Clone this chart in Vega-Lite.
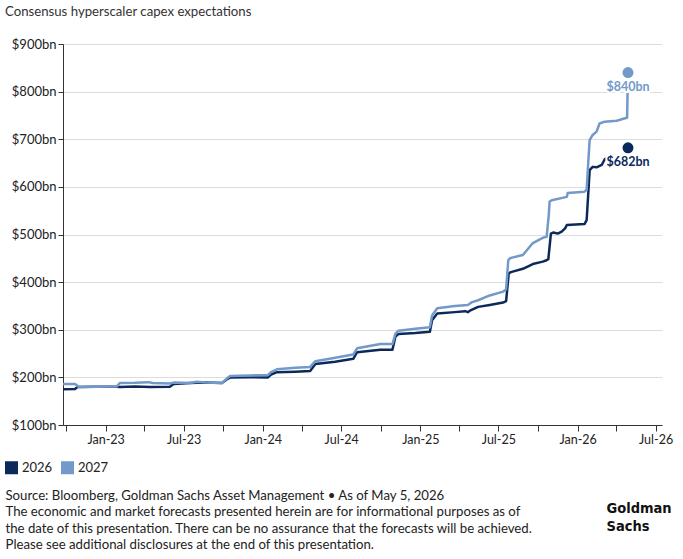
{
  "$schema": "https://vega.github.io/schema/vega-lite/v6.json",
  "autosize": "none",
  "width": 599,
  "height": 381,
  "padding": {"left": 63, "top": 44, "right": 21, "bottom": 134},
  "background": "white",
  "title": {
    "text": "Consensus hyperscaler capex expectations",
    "anchor": "start",
    "frame": "group",
    "dx": -58,
    "offset": 19,
    "font": "Lato",
    "fontSize": 13.2,
    "fontWeight": "normal",
    "color": "#333333"
  },
  "config": {
    "view": {"stroke": null},
    "font": "Lato"
  },
  "datasets": {
    "lines": [
      {"date": "2022-09-24", "series": "2026", "value": 175},
      {"date": "2022-10-22", "series": "2026", "value": 175.5},
      {"date": "2022-10-28", "series": "2026", "value": 180},
      {"date": "2022-12-08", "series": "2026", "value": 180.5},
      {"date": "2023-01-27", "series": "2026", "value": 180.5},
      {"date": "2023-02-03", "series": "2026", "value": 180},
      {"date": "2023-03-10", "series": "2026", "value": 181},
      {"date": "2023-04-14", "series": "2026", "value": 180},
      {"date": "2023-05-30", "series": "2026", "value": 180.5},
      {"date": "2023-06-08", "series": "2026", "value": 186},
      {"date": "2023-07-16", "series": "2026", "value": 188},
      {"date": "2023-08-20", "series": "2026", "value": 189},
      {"date": "2023-09-28", "series": "2026", "value": 188},
      {"date": "2023-10-10", "series": "2026", "value": 196},
      {"date": "2023-10-17", "series": "2026", "value": 199.5},
      {"date": "2023-12-02", "series": "2026", "value": 200},
      {"date": "2024-01-13", "series": "2026", "value": 200},
      {"date": "2024-01-20", "series": "2026", "value": 206},
      {"date": "2024-02-03", "series": "2026", "value": 211},
      {"date": "2024-03-16", "series": "2026", "value": 212},
      {"date": "2024-04-20", "series": "2026", "value": 213.5},
      {"date": "2024-05-02", "series": "2026", "value": 228},
      {"date": "2024-06-17", "series": "2026", "value": 233},
      {"date": "2024-07-29", "series": "2026", "value": 239},
      {"date": "2024-08-07", "series": "2026", "value": 253},
      {"date": "2024-09-30", "series": "2026", "value": 258},
      {"date": "2024-10-28", "series": "2026", "value": 258},
      {"date": "2024-11-04", "series": "2026", "value": 286},
      {"date": "2024-11-11", "series": "2026", "value": 291},
      {"date": "2024-12-20", "series": "2026", "value": 293},
      {"date": "2025-01-23", "series": "2026", "value": 296},
      {"date": "2025-01-28", "series": "2026", "value": 320},
      {"date": "2025-02-09", "series": "2026", "value": 334},
      {"date": "2025-03-22", "series": "2026", "value": 337},
      {"date": "2025-04-15", "series": "2026", "value": 339},
      {"date": "2025-04-21", "series": "2026", "value": 337},
      {"date": "2025-04-26", "series": "2026", "value": 340},
      {"date": "2025-05-15", "series": "2026", "value": 348},
      {"date": "2025-06-11", "series": "2026", "value": 352},
      {"date": "2025-07-12", "series": "2026", "value": 357},
      {"date": "2025-07-19", "series": "2026", "value": 360},
      {"date": "2025-07-25", "series": "2026", "value": 418},
      {"date": "2025-07-30", "series": "2026", "value": 421},
      {"date": "2025-08-27", "series": "2026", "value": 428},
      {"date": "2025-09-19", "series": "2026", "value": 438},
      {"date": "2025-10-12", "series": "2026", "value": 443},
      {"date": "2025-10-21", "series": "2026", "value": 446},
      {"date": "2025-10-25", "series": "2026", "value": 448},
      {"date": "2025-10-31", "series": "2026", "value": 502},
      {"date": "2025-11-05", "series": "2026", "value": 504},
      {"date": "2025-11-16", "series": "2026", "value": 502},
      {"date": "2025-11-25", "series": "2026", "value": 506},
      {"date": "2025-12-03", "series": "2026", "value": 513},
      {"date": "2025-12-07", "series": "2026", "value": 520},
      {"date": "2026-01-17", "series": "2026", "value": 522},
      {"date": "2026-01-22", "series": "2026", "value": 530},
      {"date": "2026-01-29", "series": "2026", "value": 635},
      {"date": "2026-02-05", "series": "2026", "value": 642},
      {"date": "2026-02-14", "series": "2026", "value": 641},
      {"date": "2026-02-26", "series": "2026", "value": 646},
      {"date": "2026-03-05", "series": "2026", "value": 658},
      {"date": "2026-03-10", "series": "2026", "value": 660},

      {"date": "2022-09-24", "series": "2027", "value": 186},
      {"date": "2022-10-22", "series": "2027", "value": 186},
      {"date": "2022-10-31", "series": "2027", "value": 180},
      {"date": "2022-12-08", "series": "2027", "value": 180.5},
      {"date": "2023-01-27", "series": "2027", "value": 181},
      {"date": "2023-02-03", "series": "2027", "value": 188},
      {"date": "2023-03-10", "series": "2027", "value": 188.5},
      {"date": "2023-04-10", "series": "2027", "value": 190},
      {"date": "2023-04-20", "series": "2027", "value": 188},
      {"date": "2023-05-30", "series": "2027", "value": 187},
      {"date": "2023-06-08", "series": "2027", "value": 189},
      {"date": "2023-07-16", "series": "2027", "value": 188},
      {"date": "2023-08-01", "series": "2027", "value": 191},
      {"date": "2023-08-20", "series": "2027", "value": 189},
      {"date": "2023-09-28", "series": "2027", "value": 188},
      {"date": "2023-10-10", "series": "2027", "value": 198},
      {"date": "2023-10-17", "series": "2027", "value": 203},
      {"date": "2023-12-02", "series": "2027", "value": 204},
      {"date": "2024-01-13", "series": "2027", "value": 205},
      {"date": "2024-01-20", "series": "2027", "value": 211},
      {"date": "2024-02-03", "series": "2027", "value": 217},
      {"date": "2024-03-16", "series": "2027", "value": 220},
      {"date": "2024-04-20", "series": "2027", "value": 222},
      {"date": "2024-05-02", "series": "2027", "value": 234},
      {"date": "2024-06-17", "series": "2027", "value": 241},
      {"date": "2024-07-29", "series": "2027", "value": 248},
      {"date": "2024-08-07", "series": "2027", "value": 261},
      {"date": "2024-09-30", "series": "2027", "value": 270},
      {"date": "2024-10-28", "series": "2027", "value": 270},
      {"date": "2024-11-04", "series": "2027", "value": 292},
      {"date": "2024-11-11", "series": "2027", "value": 298},
      {"date": "2024-12-20", "series": "2027", "value": 302},
      {"date": "2025-01-23", "series": "2027", "value": 305},
      {"date": "2025-01-28", "series": "2027", "value": 330},
      {"date": "2025-02-09", "series": "2027", "value": 345},
      {"date": "2025-03-22", "series": "2027", "value": 350},
      {"date": "2025-04-21", "series": "2027", "value": 352},
      {"date": "2025-05-01", "series": "2027", "value": 358},
      {"date": "2025-05-15", "series": "2027", "value": 362},
      {"date": "2025-06-11", "series": "2027", "value": 372},
      {"date": "2025-07-12", "series": "2027", "value": 380},
      {"date": "2025-07-19", "series": "2027", "value": 385},
      {"date": "2025-07-24", "series": "2027", "value": 446},
      {"date": "2025-07-28", "series": "2027", "value": 450},
      {"date": "2025-08-04", "series": "2027", "value": 452},
      {"date": "2025-08-27", "series": "2027", "value": 457},
      {"date": "2025-09-19", "series": "2027", "value": 482},
      {"date": "2025-10-12", "series": "2027", "value": 493},
      {"date": "2025-10-21", "series": "2027", "value": 495},
      {"date": "2025-10-26", "series": "2027", "value": 540},
      {"date": "2025-10-28", "series": "2027", "value": 569},
      {"date": "2025-11-02", "series": "2027", "value": 572},
      {"date": "2025-12-07", "series": "2027", "value": 579},
      {"date": "2025-12-09", "series": "2027", "value": 587},
      {"date": "2026-01-17", "series": "2027", "value": 590},
      {"date": "2026-01-22", "series": "2027", "value": 594},
      {"date": "2026-01-27", "series": "2027", "value": 670},
      {"date": "2026-01-29", "series": "2027", "value": 698},
      {"date": "2026-02-05", "series": "2027", "value": 709},
      {"date": "2026-02-14", "series": "2027", "value": 716},
      {"date": "2026-02-21", "series": "2027", "value": 733},
      {"date": "2026-03-05", "series": "2027", "value": 737},
      {"date": "2026-04-02", "series": "2027", "value": 739},
      {"date": "2026-04-21", "series": "2027", "value": 744},
      {"date": "2026-04-26", "series": "2027", "value": 745},
      {"date": "2026-04-27", "series": "2027", "value": 797}
    ],
    "latest": [
      {"date": "2026-04-28", "series": "2026", "value": 682, "label": "$682bn"},
      {"date": "2026-04-28", "series": "2027", "value": 840, "label": "$840bn"}
    ]
  },
  "encoding": {
    "x": {
      "field": "date",
      "type": "temporal",
      "scale": {"type": "utc", "domain": [{"year": 2022, "month": 9, "date": 24, "utc": true}, {"year": 2026, "month": 7, "date": 16, "utc": true}]},
      "axis": {
        "values": [
          {"year": 2022, "month": 10, "date": 1, "utc": true},
          {"year": 2023, "month": 1, "date": 1, "utc": true},
          {"year": 2023, "month": 4, "date": 1, "utc": true},
          {"year": 2023, "month": 7, "date": 1, "utc": true},
          {"year": 2023, "month": 10, "date": 1, "utc": true},
          {"year": 2024, "month": 1, "date": 1, "utc": true},
          {"year": 2024, "month": 4, "date": 1, "utc": true},
          {"year": 2024, "month": 7, "date": 1, "utc": true},
          {"year": 2024, "month": 10, "date": 1, "utc": true},
          {"year": 2025, "month": 1, "date": 1, "utc": true},
          {"year": 2025, "month": 4, "date": 1, "utc": true},
          {"year": 2025, "month": 7, "date": 1, "utc": true},
          {"year": 2025, "month": 10, "date": 1, "utc": true},
          {"year": 2026, "month": 1, "date": 1, "utc": true},
          {"year": 2026, "month": 4, "date": 1, "utc": true},
          {"year": 2026, "month": 7, "date": 1, "utc": true}
        ],
        "labelExpr": "utcmonth(datum.value) % 6 == 0 ? utcFormat(datum.value, '%b-%y') : ''",
        "labelFont": "Lato",
        "labelFontSize": 12.5,
        "labelColor": "#222222",
        "labelPadding": 2,
        "labelFlush": false,
        "labelOverlap": false,
        "tickSize": 6,
        "tickColor": "#333333",
        "domainColor": "#333333",
        "grid": false,
        "title": [
          "Source: Bloomberg, Goldman Sachs Asset Management \u2022 As of May 5, 2026",
          "The economic and market forecasts presented herein are for informational purposes as of",
          "the date of this presentation. There can be no assurance that the forecasts will be achieved.",
          "Please see additional disclosures at the end of this presentation."
        ],
        "titleFont": "Lato",
        "titleFontSize": 13.2,
        "titleFontWeight": "normal",
        "titleColor": "#222222",
        "titleAlign": "left",
        "titleAnchor": "start",
        "titleBaseline": "top",
        "titleLineHeight": 16.5,
        "titleX": -58,
        "titleY": 64
      }
    },
    "y": {
      "field": "value",
      "type": "quantitative",
      "scale": {"domain": [100, 900], "nice": false, "zero": false},
      "axis": {
        "values": [100, 200, 300, 400, 500, 600, 700, 800, 900],
        "labelExpr": "'$' + datum.value + 'bn'",
        "labelFont": "Lato",
        "labelFontSize": 13,
        "labelColor": "#222222",
        "labelPadding": 2,
        "tickSize": 5,
        "tickColor": "#333333",
        "domainColor": "#333333",
        "grid": true,
        "gridColor": "#dcdcdc",
        "gridWidth": 1,
        "title": ["Goldman", "Sachs"],
        "titleAngle": 0,
        "titleFont": "DejaVu Sans Condensed",
        "titleFontSize": 14.5,
        "titleFontWeight": "bold",
        "titleColor": "#111111",
        "titleAlign": "left",
        "titleBaseline": "top",
        "titleLineHeight": 18,
        "titleX": 543,
        "titleY": 457
      }
    },
    "color": {
      "field": "series",
      "type": "nominal",
      "scale": {"domain": ["2026", "2027"], "range": ["#0b2a5b", "#7399c9"]},
      "legend": {
        "title": null,
        "orient": "none",
        "direction": "horizontal",
        "legendX": -58,
        "legendY": 417,
        "symbolType": "square",
        "symbolSize": 169,
        "symbolStrokeWidth": 0,
        "labelFont": "Lato",
        "labelFontSize": 13,
        "labelColor": "#222222",
        "labelOffset": 4,
        "columnPadding": 8,
        "encode": {
          "symbols": {"update": {"fill": {"scale": "color", "field": "value"}, "stroke": {"value": "transparent"}, "opacity": {"value": 1}}}
        }
      }
    }
  },
  "layer": [
    {
      "data": {"name": "lines"},
      "mark": {"type": "line", "strokeWidth": 2.5, "strokeJoin": "round"}
    },
    {
      "data": {"name": "latest"},
      "mark": {"type": "point", "filled": true, "size": 120, "opacity": 1, "shape": "circle"}
    },
    {
      "data": {"name": "latest"},
      "mark": {"type": "text", "dy": 14, "align": "center", "baseline": "middle", "font": "Lato", "fontSize": 12.5, "fontWeight": "bold", "stroke": "white", "strokeWidth": 4, "strokeJoin": "round"},
      "encoding": {"text": {"field": "label"}, "color": {"value": "white"}}
    },
    {
      "data": {"name": "latest"},
      "mark": {"type": "text", "dy": 14, "align": "center", "baseline": "middle", "font": "Lato", "fontSize": 12.5, "fontWeight": "bold"},
      "encoding": {"text": {"field": "label"}}
    }
  ]
}
